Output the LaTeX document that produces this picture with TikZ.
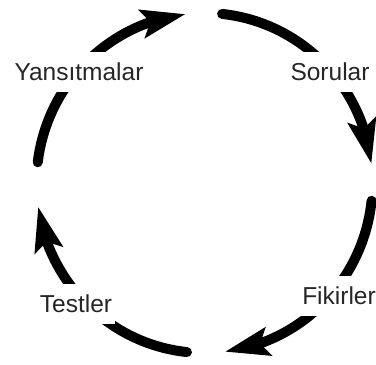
\documentclass[tikz,border=0pt]{standalone}
\usepackage{fontspec}
\setmainfont{Liberation Sans}
\usetikzlibrary{arrows.meta,bending,calc}
\definecolor{labelgray}{HTML}{262626}
\tikzset{
  cyclearrow/.style={line width=10pt, line cap=round, black,
    -{Stealth[length=44pt,width=28pt,inset=8pt]}},
  cyclelabel/.style={fill=white, text=labelgray, font=\fontsize{24.5}{29}\selectfont,
    inner xsep=3pt, inner ysep=0pt, text height=17.5pt, text depth=0pt, minimum height=40pt}
}
\begin{document}
\begin{tikzpicture}[x=1pt,y=1pt]
\useasboundingbox (0,0) rectangle (376,365);
\coordinate (c) at (204.5,182);
\coordinate (s1) at ($(c)+(84:168 and 170)$);
\coordinate (s2) at ($(c)+(-6:168 and 170)$);
\coordinate (s3) at ($(c)+(-96:168 and 170)$);
\coordinate (s4) at ($(c)+(-187:168 and 170)$);
\draw[cyclearrow] (s1) arc[start angle=84, end angle=6.5, x radius=168, y radius=170];
\draw[cyclearrow] (s2) arc[start angle=-6, end angle=-83, x radius=168, y radius=170];
\draw[cyclearrow] (s3) arc[start angle=-96, end angle=-172, x radius=168, y radius=170];
\draw[cyclearrow] (s4) arc[start angle=-187, end angle=-263.5, x radius=168, y radius=170];
\node[cyclelabel] (yans) at (79,293) {Yansıtmalar};
\node[cyclelabel] (sor) at (330,293) {Sorular};
\node[cyclelabel] (fik) at (339,69) {Fikirler};
\node[cyclelabel] (test) at (76,61) {Testler};
\end{tikzpicture}
\end{document}
